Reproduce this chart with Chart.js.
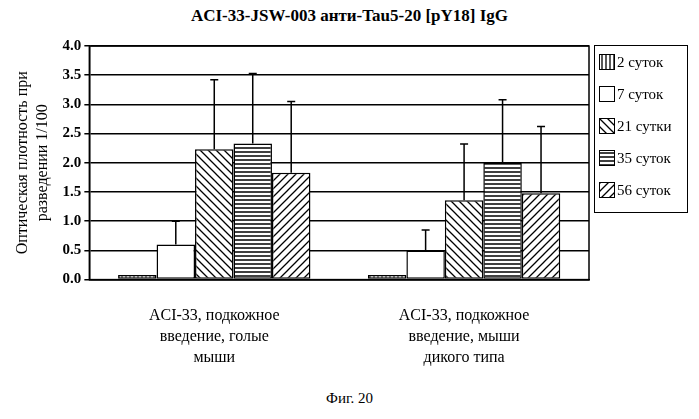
<!DOCTYPE html>
<html lang="ru">
<head>
<meta charset="UTF-8">
<script src="https://cdn.jsdelivr.net/npm/chart.js"></script>
<style>
  body { margin: 0; background: #fff; font-family: "Liberation Serif", serif; }
  #wrap { position: relative; width: 699px; height: 419px; }
  #title { position: absolute; top: 6px; left: 0; width: 699px; text-align: center; font-weight: bold; font-size: 17px; }
  #chartBox { position: absolute; left: 0; top: 30px; width: 595px; height: 356px; }
  #legend { position: absolute; left: 594px; top: 45px; width: 94px; height: 168px; border: 1.5px solid #000; box-sizing: border-box; font-size: 15px; }
  #legend div { display: flex; align-items: center; height: 32px; margin-left: 4px; }
  #legend canvas { border: 1px solid #000; margin-right: 2px; }
  #fig { position: absolute; top: 390px; left: 0; width: 699px; text-align: center; font-size: 15px; }
</style>
</head>
<body>
<div id="wrap">
  <div id="title">ACI-33-JSW-003 анти-Tau5-20 [pY18] IgG</div>
  <div id="chartBox"><canvas id="chart"></canvas></div>
  <div id="legend"></div>
  <div id="fig">Фиг. 20</div>
</div>
<script>
const categories = [
  ['ACI-33, подкожное', 'введение, голые', 'мыши'],
  ['ACI-33, подкожное', 'введение, мыши', 'дикого типа']
];
const seriesNames = ['2 суток', '7 суток', '21 сутки', '35 суток', '56 суток'];
const values = [
  [0.08, 0.08],
  [0.6, 0.5],
  [2.23, 1.36],
  [2.33, 2.0],
  [1.83, 1.48]
];
const errorTops = [
  [null, null],
  [1.0, 0.85],
  [3.42, 2.32],
  [3.53, 3.08],
  [3.05, 2.62]
];
const patterns = ['vert', 'none', 'back', 'horiz', 'fwd'];

Chart.defaults.font.family = "'Liberation Serif', serif";
Chart.defaults.color = '#000';

function makePattern(kind) {
  const c = document.createElement('canvas');
  c.width = 8; c.height = 8;
  const g = c.getContext('2d');
  g.fillStyle = '#fff'; g.fillRect(0, 0, 8, 8);
  g.strokeStyle = '#000'; g.lineWidth = 1.3;
  g.beginPath();
  if (kind === 'vert') { g.moveTo(2, 0); g.lineTo(2, 8); g.moveTo(6, 0); g.lineTo(6, 8); }
  if (kind === 'horiz') { g.moveTo(0, 2); g.lineTo(8, 2); g.moveTo(0, 6); g.lineTo(8, 6); }
  if (kind === 'back') { g.moveTo(0, 0); g.lineTo(8, 8); g.moveTo(-4, 4); g.lineTo(4, 12); g.moveTo(4, -4); g.lineTo(12, 4); }
  if (kind === 'fwd') { g.moveTo(0, 8); g.lineTo(8, 0); g.moveTo(-4, 4); g.lineTo(4, -4); g.moveTo(4, 12); g.lineTo(12, 4); }
  g.stroke();
  return c;
}

const ctx = document.getElementById('chart').getContext('2d');
const datasets = seriesNames.map((name, i) => ({
  label: name,
  data: values[i],
  backgroundColor: ctx.createPattern(makePattern(patterns[i]), 'repeat'),
  borderColor: '#000',
  borderWidth: 1.5,
  borderSkipped: false
}));

// legend
const legend = document.getElementById('legend');
seriesNames.forEach((name, i) => {
  const row = document.createElement('div');
  const sw = document.createElement('canvas');
  sw.width = 14; sw.height = 14;
  const sg = sw.getContext('2d');
  sg.fillStyle = sg.createPattern(makePattern(patterns[i]), 'repeat');
  sg.fillRect(0, 0, 14, 14);
  row.appendChild(sw);
  row.appendChild(document.createTextNode(name));
  legend.appendChild(row);
});

const errorBars = {
  id: 'errorBars',
  afterDatasetsDraw(chart) {
    const g = chart.ctx, y = chart.scales.y;
    g.save(); g.strokeStyle = '#000'; g.lineWidth = 1.5;
    chart.data.datasets.forEach((ds, i) => {
      chart.getDatasetMeta(i).data.forEach((bar, j) => {
        const top = errorTops[i][j];
        if (top == null) return;
        const yt = y.getPixelForValue(top);
        g.beginPath();
        g.moveTo(bar.x, bar.y); g.lineTo(bar.x, yt);
        g.moveTo(bar.x - 4, yt); g.lineTo(bar.x + 4, yt);
        g.stroke();
      });
    });
    const a = chart.chartArea;
    g.strokeRect(a.left, a.top, a.right - a.left, a.bottom - a.top);
    g.restore();
  }
};

new Chart(ctx, {
  type: 'bar',
  data: { labels: categories, datasets },
  plugins: [errorBars],
  options: {
    responsive: true,
    maintainAspectRatio: false,
    animation: false,
    layout: { padding: { top: 16, right: 6, left: 6 } },
    datasets: { bar: { categoryPercentage: 0.77, barPercentage: 1 } },
    plugins: { legend: { display: false }, tooltip: { enabled: false } },
    scales: {
      x: {
        grid: { display: false },
        border: { color: '#000', width: 1.5 },
        ticks: { color: '#000', font: { family: "'Liberation Serif', serif", size: 16, lineHeight: 1.3 }, padding: 18 }
      },
      y: {
        min: 0, max: 4,
        ticks: { stepSize: 0.5, color: '#000', font: { family: "'Liberation Serif', serif", size: 15, weight: 'bold' },
                 callback: v => v.toFixed(1) },
        grid: { color: '#000', lineWidth: 1.5, tickLength: 5 },
        border: { color: '#000', width: 1.5 },
        title: { display: true, text: ['Оптическая плотность при', 'разведении 1/100'], color: '#000',
                 font: { family: "'Liberation Serif', serif", size: 16, lineHeight: 1.3 }, padding: 6 }
      }
    }
  }
});
</script>
</body>
</html>
